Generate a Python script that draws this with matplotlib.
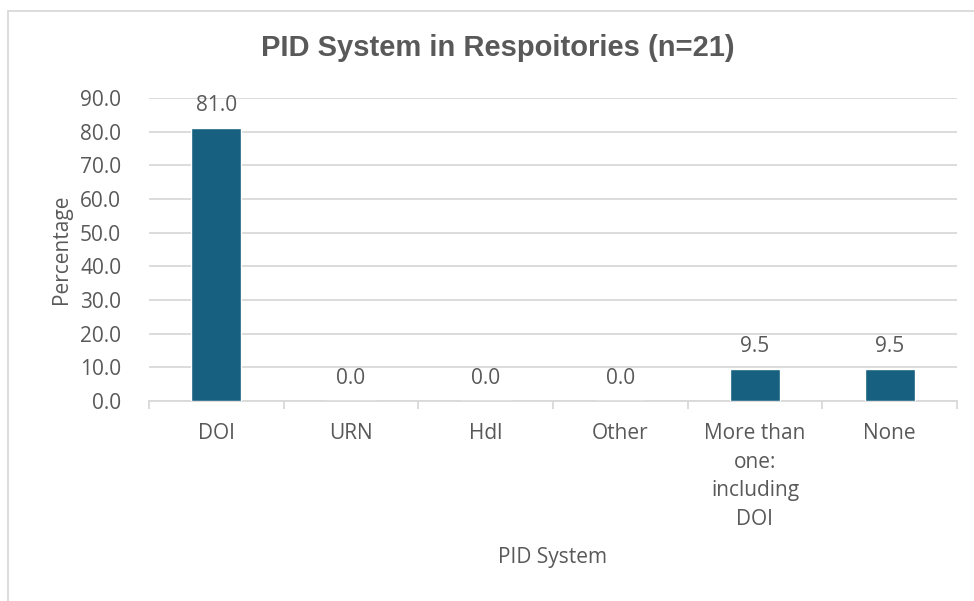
import numpy as np
import matplotlib
matplotlib.use("Agg")
from matplotlib import pyplot as plt
from matplotlib.patches import Rectangle

categories = ["DOI", "URN", "Hdl", "Other", "More than\none:\nincluding\nDOI", "None"]
values = [81.0, 0.0, 0.0, 0.0, 9.5, 9.5]
yticks = [0, 10, 20, 30, 40, 50, 60, 70, 80, 90]

bar_color = "#17607f"
text_color = "#595959"
grid_color = "#d9d9d9"
font = ["Open Sans", "DejaVu Sans"]

plt.rcParams['font.family'] = font

fig = plt.figure(figsize=(9.74, 6.01), dpi=100)
ax = fig.add_axes([0.153, 0.333, 0.8295, 0.504])

x = np.arange(len(categories))
bars = ax.bar(x, values, width=0.37, color=bar_color, edgecolor="white", linewidth=1, zorder=3)

for xi, v in zip(x, values):
	ax.annotate("%.1f" % v, (xi, v), xytext=(0, 8.5), textcoords="offset points",
				ha="center", va="bottom", fontsize=15, color=text_color)

ax.set_xlim(-0.5, len(categories) - 0.5)
ax.set_ylim(0, 90)
ax.set_yticks(yticks)
ax.set_yticklabels(["%.1f" % t for t in yticks], fontsize=15, color=text_color)
ax.yaxis.grid(True, color=grid_color, linewidth=1.3, zorder=0)
ax.tick_params(axis="y", length=0, pad=20)

ax.set_xticks(x)
ax.set_xticklabels(categories, fontsize=15, color=text_color, linespacing=1.48, va="top")
ax.set_xticks(np.arange(len(categories) + 1) - 0.5, minor=True)
ax.tick_params(axis="x", which="major", length=0, pad=16)
ax.tick_params(axis="x", which="minor", length=6, color=grid_color, width=1.3)

for side in ["top", "right", "left"]:
	ax.spines[side].set_visible(False)
ax.spines["bottom"].set_color(grid_color)
ax.spines["bottom"].set_linewidth(1.3)

ax.set_ylabel("Percentage", fontsize=15, color=text_color, labelpad=6)
ax.set_xlabel("PID System", fontsize=15, color=text_color, labelpad=12)

fig.text(0.511, 0.92, "PID System in Respoitories (n=21)", ha="center", va="center",
		 fontsize=21, fontweight="bold", color=text_color, family=["Liberation Sans", "DejaVu Sans"])

frame = Rectangle((8 / 974, -0.1), 1.1, 1 - 11 / 601 + 0.1, transform=fig.transFigure,
				  fill=False, edgecolor=grid_color, linewidth=1.3, clip_on=False)
fig.patches.append(frame)

fig.savefig("out.png", dpi=100)
plt.close(fig)
